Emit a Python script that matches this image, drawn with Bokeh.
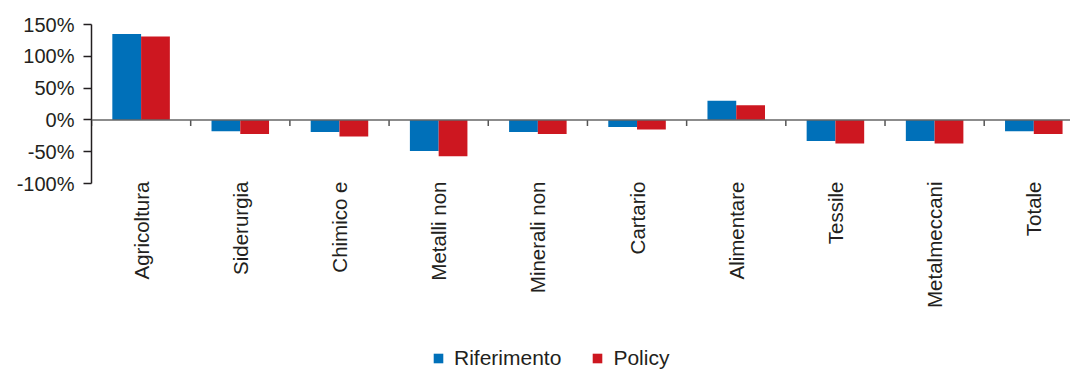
import math
from bokeh.plotting import figure
from bokeh.layouts import column
from bokeh.models import (ColumnDataSource, Range1d, LinearAxis, FixedTicker,
                          PrintfTickFormatter, Legend, LegendItem, Span)
from bokeh.embed import file_html
from bokeh.resources import INLINE

categories = ["Agricoltura", "Siderurgia", "Chimico e", "Metalli non", "Minerali non",
              "Cartario", "Alimentare", "Tessile", "Metalmeccani", "Totale"]
riferimento = [135, -18, -19, -49, -19, -11, 30, -33, -33, -18]
policy = [131, -22, -26, -57, -22, -15, 23, -37, -37, -22]
series_names = ["Riferimento", "Policy"]
y_ticks = [-100, -50, 0, 50, 100, 150]

FONT = "Liberation Sans"
TXT = "#231f20"
BLUE = "#0070b9"
RED = "#cd1720"
BW = 0.29
TICK_LEN = 9.5  # zero-line tick length in y data units (~6px)

idx = list(range(len(categories)))
src = ColumnDataSource(dict(
    xb=[i + 0.5 - BW / 2 for i in idx],
    xr=[i + 0.5 + BW / 2 for i in idx],
    rif=riferimento, pol=policy))
bsrc = ColumnDataSource(dict(x=list(range(len(categories) + 1))))

W = 1070
p = figure(width=W, height=330, output_backend="svg", toolbar_location=None,
           x_axis_type=None, y_axis_type=None,
           x_range=Range1d(0, 9.87), y_range=Range1d(-100, 150),
           min_border_left=91, min_border_right=0, min_border_top=24, min_border_bottom=147)
p.outline_line_color = None
p.xgrid.visible = False
p.ygrid.visible = False

rb = p.vbar(x="xb", top="rif", bottom=0, width=BW, source=src, fill_color=BLUE, line_color=None)
rr = p.vbar(x="xr", top="pol", bottom=0, width=BW, source=src, fill_color=RED, line_color=None)

# zero line with category boundary ticks
p.add_layout(Span(location=0, dimension="width", line_color="#666666", line_width=1.5))
p.segment(x0="x", x1="x", y0=0, y1=-TICK_LEN, source=bsrc, line_color="#555555", line_width=1.5)

# y axis
yax = LinearAxis(ticker=FixedTicker(ticks=y_ticks),
                 formatter=PrintfTickFormatter(format="%d%%"))
yax.axis_line_color = "#231f20"
yax.axis_line_width = 1.5
yax.major_tick_line_color = "#231f20"
yax.major_tick_line_width = 1.5
yax.major_tick_out = 8
yax.major_tick_in = 0
yax.minor_tick_line_color = None
yax.major_label_standoff = 9
yax.major_label_text_font = FONT
yax.major_label_text_font_size = "20px"
yax.major_label_text_color = TXT
p.add_layout(yax, "left")

# category labels axis
cax = LinearAxis(ticker=FixedTicker(ticks=[i + 0.5 for i in idx]),
                 major_label_overrides={i + 0.5: c for i, c in zip(idx, categories)})
cax.axis_line_color = None
cax.major_tick_line_color = None
cax.minor_tick_line_color = None
cax.major_tick_out = 0
cax.major_tick_in = 0
cax.major_label_orientation = math.pi / 2
cax.major_label_standoff = -2
cax.major_label_text_font = FONT
cax.major_label_text_font_size = "20.5px"
cax.major_label_text_color = TXT
p.add_layout(cax, "below")

# legend in its own strip (proxy renderers placed outside the visible range)
lf = figure(width=W, height=40, output_backend="svg", toolbar_location=None,
            x_axis_type=None, y_axis_type=None,
            x_range=Range1d(0, 1), y_range=Range1d(0, 1),
            min_border_left=0, min_border_right=0, min_border_top=0, min_border_bottom=0)
lf.outline_line_color = None
lf.xgrid.visible = False
lf.ygrid.visible = False
proxy = ColumnDataSource(dict(x=[-5], top=[-5]))
lb = lf.vbar(x="x", top="top", bottom=-6, width=0.1, source=proxy, fill_color=BLUE, line_color=None)
lr = lf.vbar(x="x", top="top", bottom=-6, width=0.1, source=proxy, fill_color=RED, line_color=None)
legend = Legend(items=[LegendItem(label=series_names[0], renderers=[lb]),
                       LegendItem(label=series_names[1], renderers=[lr])],
                orientation="horizontal", location=(341, 0))
legend.label_text_font = FONT
legend.label_text_font_size = "21px"
legend.label_text_color = TXT
legend.glyph_width = 12
legend.glyph_height = 12
legend.label_standoff = 10
legend.spacing = 30
legend.border_line_color = None
legend.padding = 0
legend.margin = 0
legend.background_fill_alpha = 0
lf.add_layout(legend)

layout = column(p, lf, spacing=0)
open("out.html", "w").write(file_html(layout, INLINE))
